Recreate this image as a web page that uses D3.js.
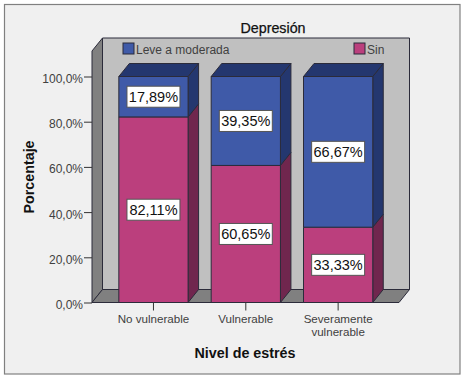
<!DOCTYPE html>
<html>
<head>
<meta charset="utf-8">
<script src="https://cdn.jsdelivr.net/npm/d3@7"></script>
<style>
  html, body { margin: 0; padding: 0; background: #fff; }
  svg { display: block; }
  text { font-family: "Liberation Sans", Arial, sans-serif; }
</style>
</head>
<body>
<svg id="chart" width="464" height="378"></svg>
<script>
// Values
const categories = ['No vulnerable', 'Vulnerable', 'Severamente vulnerable'];
const sinValues = [82.11, 60.65, 33.33];
const leveValues = [17.89, 39.35, 66.67];
const yTicks = [0, 20, 40, 60, 80, 100];
const seriesNames = ['Sin', 'Leve a moderada'];

const fmt = v => v.toFixed(2).replace('.', ',') + '%';
const fmtTick = v => v.toFixed(1).replace('.', ',') + '%';

const colors = {
  'Sin': { front: '#bb3f7d', side: '#70264e' },
  'Leve a moderada': { front: '#3f5aa8', side: '#24376f' }
};
const edge = '#2b2b3a';
const gray = '#404040';

// depth of the fake 3d
const dx = 10.5, dy = -13;

const svg = d3.select('#chart');

const x = d3.scaleBand().domain(categories).range([107.3, 384.3]).paddingInner(0.25).paddingOuter(0.125);
const y = d3.scaleLinear().domain([0, 100]).range([302.5, 76.5]);

const axisLeftX = 92, axisRightX = 399, wallTop = 51;

// outer frame
svg.append('rect')
  .attr('x', 4.5).attr('y', 4.5).attr('width', 455.5).attr('height', 369.5)
  .attr('fill', '#f0f0f0').attr('stroke', '#808080').attr('stroke-width', 1.2);

const poly = (pts, fill) => svg.append('path')
  .attr('d', d3.line()(pts) + 'Z')
  .attr('fill', fill).attr('stroke', edge).attr('stroke-width', 1).attr('stroke-linejoin', 'round');

// back wall, left wall, floor
poly([[axisLeftX + dx, wallTop + dy], [axisRightX + dx, wallTop + dy], [axisRightX + dx, y(0) + dy], [axisLeftX + dx, y(0) + dy]], '#c0c0c0');
poly([[axisLeftX, wallTop], [axisLeftX + dx, wallTop + dy], [axisLeftX + dx, y(0) + dy], [axisLeftX, y(0)]], '#808080');
poly([[axisLeftX, y(0)], [axisLeftX + dx, y(0) + dy], [axisRightX + dx, y(0) + dy], [axisRightX, y(0)]], '#808080');

// stacked bars
const rows = categories.map((c, i) => ({ cat: c, 'Sin': sinValues[i], 'Leve a moderada': leveValues[i] }));
const stacked = d3.stack().keys(seriesNames)(rows);

stacked.forEach(layer => {
  const col = colors[layer.key];
  layer.forEach(d => {
    const x0 = x(d.data.cat), x1 = x0 + x.bandwidth();
    const yTop = y(d[1]), yBot = y(d[0]);
    // side
    poly([[x1, yTop], [x1 + dx, yTop + dy], [x1 + dx, yBot + dy], [x1, yBot]], col.side);
    // front
    poly([[x0, yTop], [x1, yTop], [x1, yBot], [x0, yBot]], col.front);
    // top cap, only on the last layer
    if (layer.key === 'Leve a moderada') {
      poly([[x0, yTop], [x0 + dx, yTop + dy], [x1 + dx, yTop + dy], [x1, yTop]], col.side);
    }
  });
});

// value labels
stacked.forEach(layer => {
  layer.forEach(d => {
    const cx = x(d.data.cat) + x.bandwidth() / 2;
    const cy = (y(d[0]) + y(d[1])) / 2;
    const g = svg.append('g').attr('transform', `translate(${cx},${cy})`);
    g.append('rect')
      .attr('x', -26.5).attr('y', -10.5).attr('width', 53).attr('height', 21)
      .attr('fill', '#fff').attr('stroke', '#555').attr('stroke-width', 1);
    g.append('text')
      .attr('text-anchor', 'middle').attr('dy', '0.36em')
      .attr('font-size', 14.5).attr('fill', '#111')
      .text(fmt(d[1] - d[0]));
  });
});

// y axis
const yAxis = svg.append('g')
  .attr('transform', `translate(${axisLeftX},0)`)
  .call(d3.axisLeft(y).tickValues(yTicks).tickFormat(fmtTick).tickSize(8).tickPadding(1));
yAxis.select('.domain').remove();
yAxis.selectAll('line').attr('stroke', '#333');
yAxis.selectAll('text').attr('font-size', 12).attr('fill', gray).attr('dy', '0.5em').style('font-family', '"Liberation Sans", Arial, sans-serif');

// x axis
const xAxis = svg.append('g')
  .attr('transform', `translate(0,${y(0)})`)
  .call(d3.axisBottom(x).tickSize(8).tickPadding(3).tickFormat(''));
xAxis.select('.domain').remove();
xAxis.selectAll('line').attr('stroke', '#333');

const xLabels = [['No vulnerable'], ['Vulnerable'], ['Severamente', 'vulnerable']];
categories.forEach((c, i) => {
  const t = svg.append('text')
    .attr('text-anchor', 'middle').attr('font-size', 11.6).attr('fill', gray);
  xLabels[i].forEach((line, k) => {
    t.append('tspan')
      .attr('x', x(c) + x.bandwidth() / 2)
      .attr('y', 323 + k * 12.5)
      .text(line);
  });
});

// axis titles
svg.append('text')
  .attr('x', 245).attr('y', 358).attr('text-anchor', 'middle')
  .attr('font-size', 14.3).attr('font-weight', 'bold').attr('fill', '#111')
  .text('Nivel de estrés');
svg.append('text')
  .attr('transform', 'translate(34,177) rotate(-90)').attr('text-anchor', 'middle')
  .attr('font-size', 14.3).attr('font-weight', 'bold').attr('fill', '#111')
  .text('Porcentaje');

// legend
svg.append('text')
  .attr('x', 273).attr('y', 33).attr('text-anchor', 'middle')
  .attr('font-size', 14.3).attr('fill', '#111').attr('stroke', '#111').attr('stroke-width', 0.25)
  .text('Depresión');

const legendX = [123, 354];
['Leve a moderada', 'Sin'].forEach((name, i) => {
  svg.append('rect')
    .attr('x', legendX[i]).attr('y', 43).attr('width', 11).attr('height', 11)
    .attr('fill', colors[name].front).attr('stroke', edge);
  svg.append('text')
    .attr('x', legendX[i] + 13).attr('y', 54)
    .attr('font-size', 12).attr('fill', gray)
    .text(name);
});
</script>
</body>
</html>
